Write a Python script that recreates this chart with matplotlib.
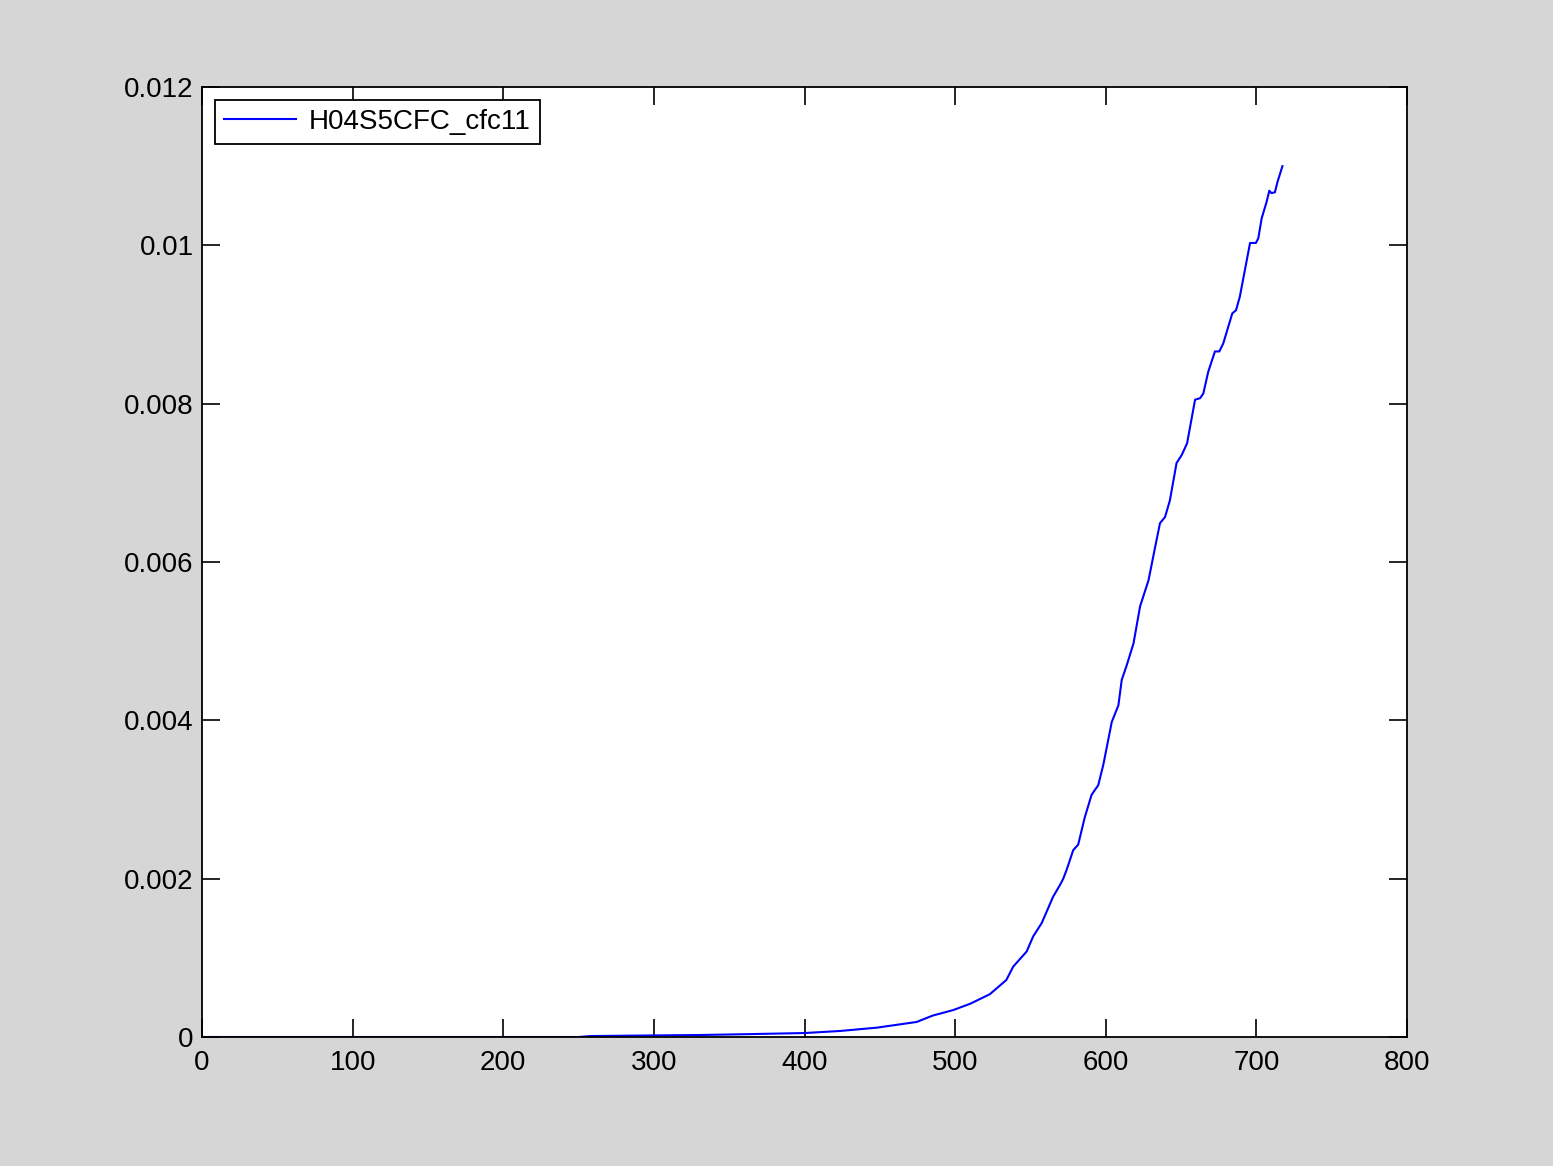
import matplotlib
matplotlib.use("Agg")
import matplotlib.pyplot as plt
from matplotlib.ticker import FuncFormatter

# values
x_vals = [0, 50, 100, 150, 200, 250, 258, 300, 330, 360, 400, 423.6, 448, 474.5, 485, 498.7,
          510, 523, 534, 538.6, 547.5, 551.8, 557.5, 565, 569.6, 571.8, 574, 578.4, 581.7,
          586, 590.6, 595, 598.4, 604, 608.4, 610.6, 614, 618.4, 622.8, 628.4, 632.8, 636,
          639.4, 642.6, 647, 650.4, 654, 659.3, 662.7, 664.8, 668, 672.5, 675.4, 678, 684,
          686.5, 689, 693.6, 695.8, 699.7, 701.3, 703.5, 706.8, 708.6, 710, 712.3, 714, 717.3]
y_vals = [0, 0, 0, 0, 0, 0, 0.000012, 0.00002, 0.000025, 0.000035, 0.00005, 0.000076,
          0.000118, 0.00019, 0.00027, 0.00034, 0.00042, 0.00054, 0.00072, 0.00089, 0.00108,
          0.00127, 0.00144, 0.00177, 0.00192, 0.0020, 0.00211, 0.00236, 0.00243, 0.00277,
          0.00306, 0.00318, 0.00344, 0.00398, 0.00419, 0.00451, 0.0047, 0.00497, 0.00544,
          0.00577, 0.00619, 0.00649, 0.00657, 0.00678, 0.00725, 0.00735, 0.0075, 0.00805,
          0.00807, 0.00813, 0.0084, 0.00866, 0.00866, 0.00876, 0.00914, 0.00918, 0.00935,
          0.00981, 0.01003, 0.01003, 0.01009, 0.01034, 0.01055, 0.01069, 0.01066, 0.01067,
          0.0108, 0.0110]
series_label = "H04S5CFC_cfc11"
x_ticks = [0, 100, 200, 300, 400, 500, 600, 700, 800]
y_ticks = [0, 0.002, 0.004, 0.006, 0.008, 0.01, 0.012]

plt.rcParams['font.family'] = ['Liberation Sans', 'DejaVu Sans']

fig = plt.figure(figsize=(15.53, 11.66), dpi=100, facecolor='#d6d6d6')
ax = fig.add_axes([202 / 1553, 129 / 1166, 1205 / 1553, 950 / 1166])

ax.plot(x_vals, y_vals, color='#0000ff', lw=1.5, label=series_label)

ax.set_xlim(0, 800)
ax.set_ylim(0, 0.012)
ax.set_xticks(x_ticks)
ax.set_yticks(y_ticks)
ax.yaxis.set_major_formatter(FuncFormatter(lambda v, p: f"{v:g}"))
ax.tick_params(direction='in', length=13, width=1.2, labelsize=20,
               top=True, right=True)
ax.tick_params(axis='x', pad=9)
ax.tick_params(axis='y', pad=6)
for s in ax.spines.values():
    s.set_linewidth(1.3)

leg = ax.legend(loc='upper left', fontsize=20, fancybox=False, framealpha=1,
                edgecolor='black', borderaxespad=0.45, handlelength=2.6,
                borderpad=0.34, handletextpad=0.45)
leg.get_frame().set_linewidth(1.3)

plt.savefig("out.png", dpi=100, facecolor=fig.get_facecolor())
plt.close()
